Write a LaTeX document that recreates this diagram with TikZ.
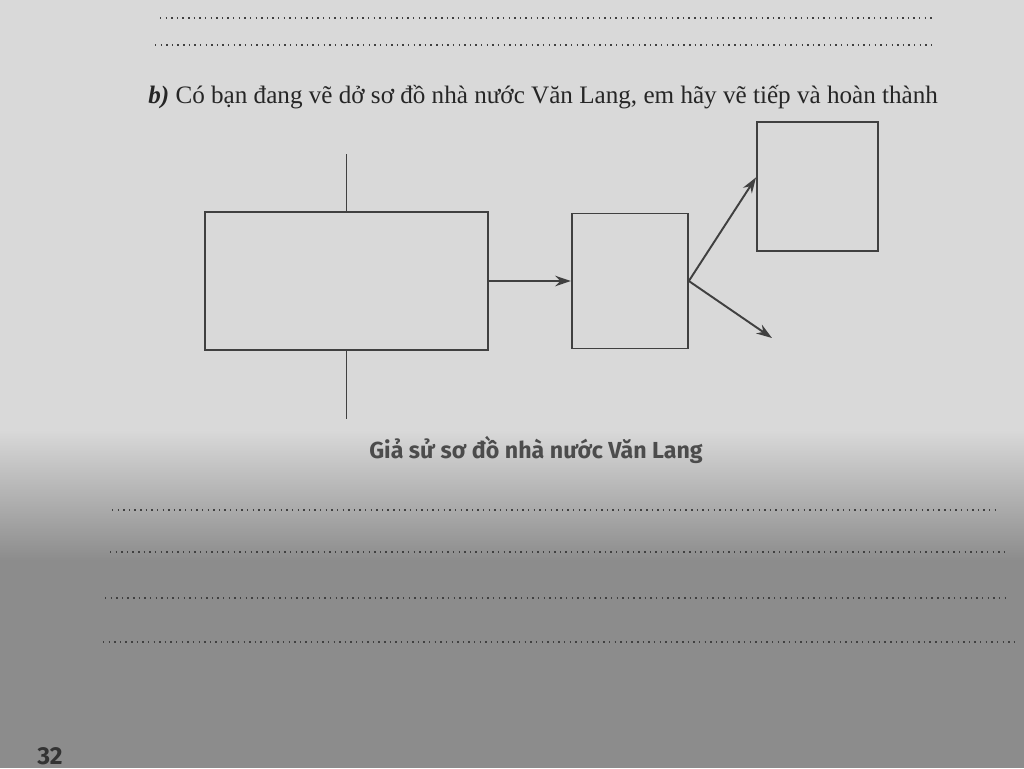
\documentclass[tikz,border=0pt]{standalone}
\usepackage{fontspec}
\setmainfont{Liberation Serif}
\newfontfamily\capfont{Fira Sans}
\usepackage{tikz}
\tikzstyle{block}=[draw=black!75, line width=1.1pt, inner sep=0pt]
\tikzstyle{arrow}=[line width=1.1pt,draw=black!75,-{Stealth[length=9pt,width=6pt]}]
\tikzstyle{dots}=[black!75, line width=1.4pt, dash pattern=on 0.8pt off 2.4pt]
\usetikzlibrary{arrows.meta,positioning,calc}

\begin{document}
\begin{tikzpicture}[x=0.02cm,y=-0.02cm]
\useasboundingbox (0,0) rectangle (1024,768);
\fill[black!15] (0,0) rectangle (1024,768);
\shade[top color=black!15, bottom color=black!45] (0,430) rectangle (1024,560);
\fill[black!45] (0,560) rectangle (1024,768);

% lines to write on
\foreach \y/\a/\b in {18/160/935, 45/155/935}
  \draw[dots] (\a,\y) -- (\b,\y);
\foreach \y/\a/\b in {510/112/1000, 552/110/1005, 598/105/1010, 642/103/1015}
  \draw[dots] (\a,\y) -- (\b,\y);

\node (title) [anchor=base west, inner sep=0pt, font=\fontsize{14.3}{17}\selectfont, text=black!85]
  at (148,103) {\textbf{\textit{b)}} Có bạn đang vẽ dở sơ đồ nhà nước Văn Lang, em hãy vẽ tiếp và hoàn thành};

\node (main) [block, minimum width=5.66cm, minimum height=2.76cm] at (346.5,281) {};
\node (mid) [block, right=1.64cm of main, minimum width=2.32cm, minimum height=2.7cm] {};
\node (right) [block, minimum width=2.42cm, minimum height=2.58cm] at (817.5,186.5) {};

\coordinate (up) at ($(main.north)+(0,-57)$);
\coordinate (down) at ($(main.south)+(0,68)$);
\coordinate (open) at (772,338);

\draw[line width=1.1pt, black!75] (main.north) -- (up);
\draw[line width=1.1pt, black!75] (main.south) -- (down);
\draw[arrow] (main.east) -- (mid.west);
\draw[arrow] (mid.east) -- ($(right.south west)!0.57!(right.north west)$);
\draw[arrow] (mid.east) -- (open);

\node (caption) [font=\capfont\bfseries\fontsize{13.2}{16}\selectfont, text=black!70] at (536,450) {Giả sử sơ đồ nhà nước Văn Lang};

\node (page) [anchor=base, font=\capfont\bfseries\fontsize{14}{16}\selectfont, text=black!80] at (50,764) {32};
\end{tikzpicture}
\end{document}
